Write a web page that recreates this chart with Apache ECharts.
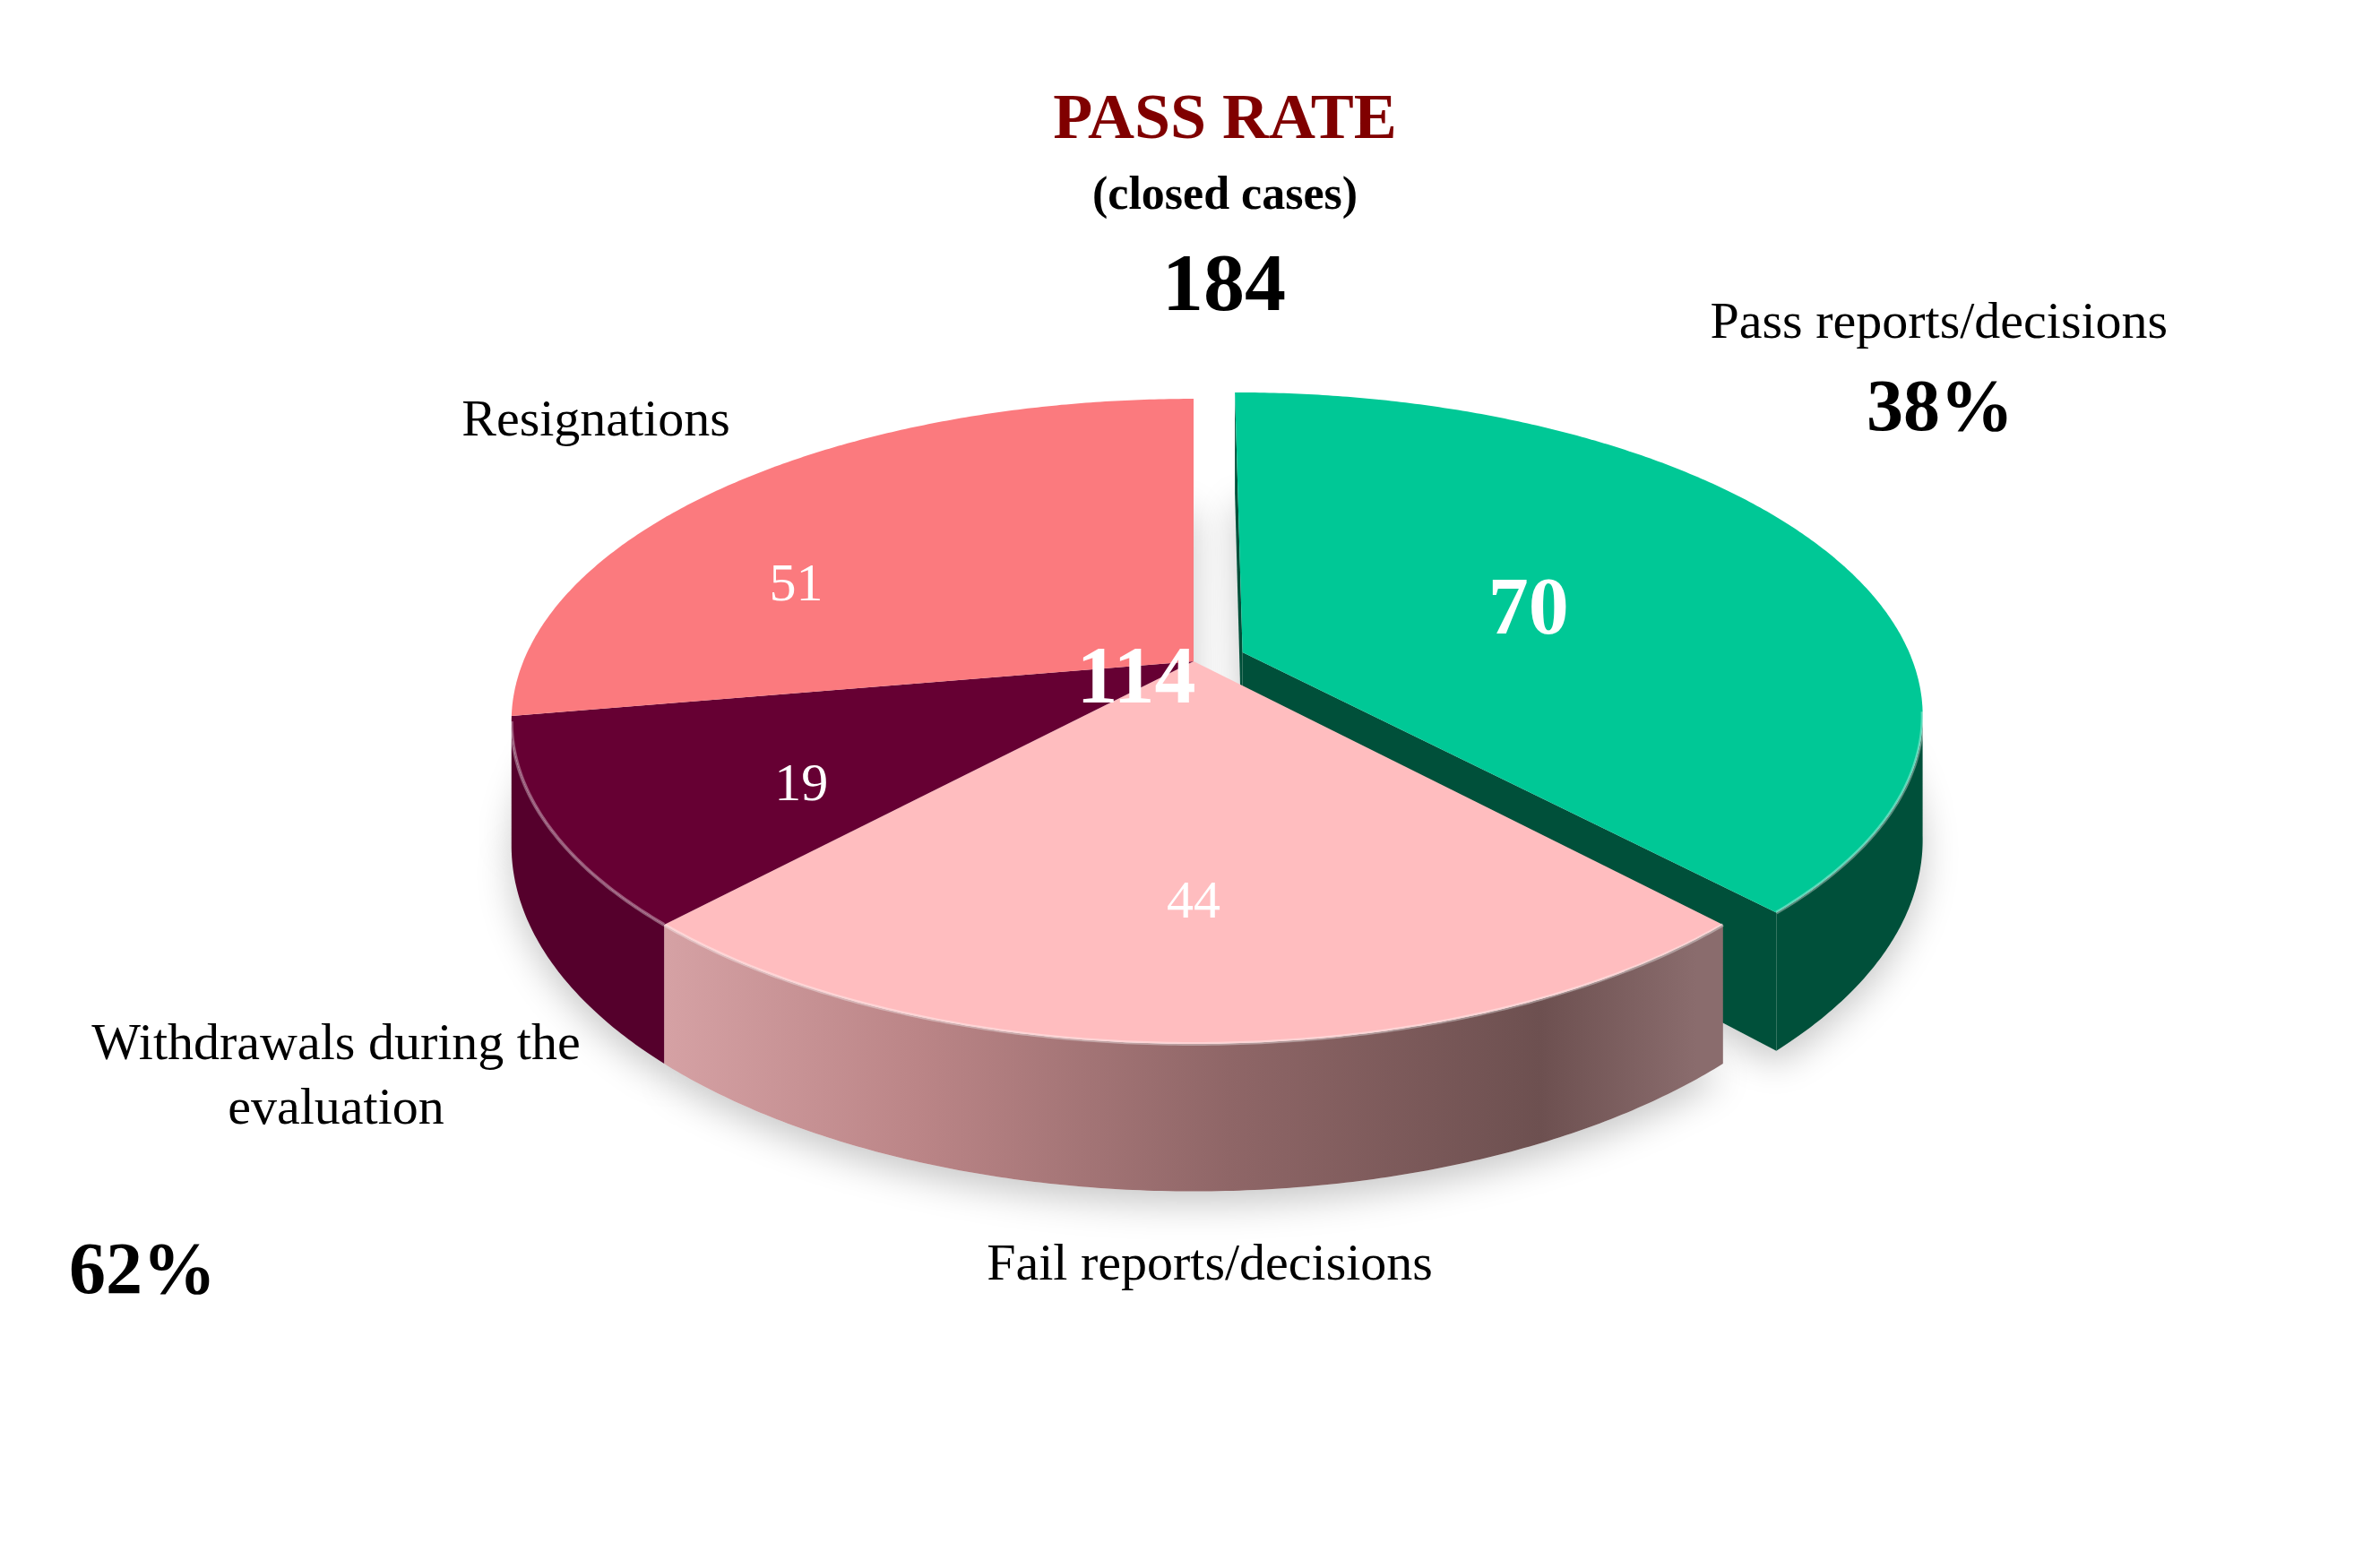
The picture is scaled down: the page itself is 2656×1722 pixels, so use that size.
<!DOCTYPE html>
<html><head><meta charset="utf-8">
<script src="https://cdn.jsdelivr.net/npm/echarts@6/dist/echarts.min.js"></script>
<style>html,body{margin:0;padding:0;background:#fff}#chart{width:2656px;height:1722px}</style>
</head><body><div id="chart"></div>
<script>
// ---- data ----
const categories = ['Pass reports/decisions', 'Fail reports/decisions', 'Withdrawals during the\nevaluation', 'Resignations'];
const values = [70, 44, 19, 51];
const exploded = [1, 0, 0, 0];
const titleText = 'PASS RATE';
const subtitleText = '(closed cases)';

// ---- styles / layout (not data) ----
const FONT = '"Liberation Serif", "DejaVu Serif", serif';
const topColors = ['#00C896', '#FFBDBF', '#660033', '#FB7A7E'];
const wallColors = ['#00503A', null, '#55002C', '#DC6B6D'];
const valueFont = ['bold 90px ' + FONT, '60px ' + FONT, '60px ' + FONT, '60px ' + FONT];
// value label placement: [radius fraction, angular shift in degrees]
const labelPlace = [[0.46, 5], [0.68, 0], [0.66, -6], [0.67, -18]];
const namePos = [[0.8147, 0.2102], [0.5083, 0.8205], [0.1412, 0.6985], [0.2504, 0.2735]];

const total = values.reduce((a, b) => a + b, 0);
const starts = [];
{ let acc = 0; values.forEach(v => { starts.push(acc); acc += v; }); }
const passPct = Math.round(values[0] / total * 100);
const restSum = total - values[0];
const restPct = 100 - passPct;

function geom(api) {
  const W = api.getWidth(), H = api.getHeight();
  return { W, H, cx: W * 0.5015, cy: H * 0.4286, R: W * 0.2816, A: H * 0.2018, B: 0.186, D: H * 0.0778 };
}

function renderItem(params, api) {
  const i = params.dataIndex;
  const g = geom(api);
  const v = api.value(1);
  const TWO = Math.PI * 2;
  const t1 = starts[i] / total * TWO, t2 = (starts[i] + v) / total * TWO;
  const mid = (t1 + t2) / 2;
  const off = exploded[i] ? 0.079 : 0;
  const ox = off * Math.sin(mid), oz = -off * Math.cos(mid);
  function P(t, r, down) {
    const X = r * Math.sin(t) + ox, Z = -r * Math.cos(t) + oz;
    const d = 1 - g.B * Z;
    return [g.cx + g.R * X / d, g.cy + (g.A * Z + (down ? g.D : 0)) / d];
  }
  function arc(a, b, down) {
    const n = Math.max(2, Math.ceil((b - a) / (Math.PI / 360)));
    const pts = [];
    for (let k = 0; k <= n; k++) pts.push(P(a + (b - a) * k / n, 1, down));
    return pts;
  }
  const base = exploded[i] ? 0 : 3;
  const children = [];
  // floor shadow
  children.push({
    type: 'polygon', z2: base,
    shape: { points: [P(0, 0, true)].concat(arc(t1, t2, true)) },
    style: { fill: '#f0f0f0', shadowBlur: 40, shadowColor: 'rgba(0,0,0,0.22)', shadowOffsetY: 14 }
  });
  // outer wall (visible front part)
  const tv1 = Math.acos(-g.B), tv2 = TWO - tv1;
  const w1 = Math.max(t1, tv1), w2 = Math.min(t2, tv2);
  let wallFill = wallColors[i];
  if (!wallFill) {
    wallFill = new echarts.graphic.LinearGradient(g.cx - g.R * 0.8, 0, g.cx + g.R * 0.75, 0, [
      { offset: 0, color: '#d6a2a5' }, { offset: 0.25, color: '#bb8587' },
      { offset: 0.55, color: '#8f6667' }, { offset: 0.85, color: '#6d5050' },
      { offset: 1, color: '#8a6c6d' }], true);
  }
  if (w2 > w1) {
    const top = arc(w1, w2, false), bot = arc(w1, w2, true).reverse();
    children.push({ type: 'polygon', z2: base + 1, shape: { points: top.concat(bot) }, style: { fill: wallFill } });
  }
  // radial faces for the exploded slice
  if (exploded[i]) {
    [t1, t2].forEach(t => {
      children.push({
        type: 'polygon', z2: base + 1,
        shape: { points: [P(t, 0, false), P(t, 1, false), P(t, 1, true), P(t, 0, true)] },
        style: { fill: wallColors[i] }
      });
    });
  }
  // top face
  children.push({
    type: 'polygon', z2: base + 2,
    shape: { points: [P(0, 0, false)].concat(arc(t1, t2, false)) },
    style: { fill: topColors[i] }
  });
  // subtle bevel highlight on front rim
  if (w2 > w1) {
    children.push({
      type: 'polyline', z2: base + 2,
      shape: { points: arc(w1, w2, false) },
      style: { stroke: 'rgba(255,255,255,0.35)', lineWidth: 4, fill: null }
    });
  }
  // value label
  const lp = P(mid + labelPlace[i][1] * Math.PI / 180, labelPlace[i][0], false);
  children.push({
    type: 'text', z2: 20, x: lp[0], y: lp[1],
    style: { text: String(v), fill: '#ffffff', font: valueFont[i], align: 'center', verticalAlign: 'middle', textAlign: 'center', textVerticalAlign: 'middle' }
  });
  // category name
  children.push({
    type: 'text', z2: 20, x: namePos[i][0] * g.W, y: namePos[i][1] * g.H,
    style: { text: categories[i], fill: '#000000', font: '58px ' + FONT, lineHeight: 72, align: 'center', verticalAlign: 'middle', textAlign: 'center', textVerticalAlign: 'middle' }
  });
  return { type: 'group', children };
}

function txt(x, y, text, font, fill, z) {
  return { type: 'text', x, y, z: z || 10, style: { text, font, fill, align: 'center', verticalAlign: 'middle', textAlign: 'center', textVerticalAlign: 'middle' } };
}

const chart = echarts.init(document.getElementById('chart'));
chart.setOption({
  backgroundColor: '#ffffff',
  animation: false,
  graphic: [
    txt(1367, 135, titleText, 'bold 72px ' + FONT, '#800000'),
    txt(1367, 220, subtitleText, 'bold 52px ' + FONT, '#000000'),
    txt(1366, 322, String(total), 'bold 92px ' + FONT, '#000000'),
    txt(2165, 459, passPct + '%', 'bold 82px ' + FONT, '#000000'),
    txt(159, 1422, restPct + '%', 'bold 82px ' + FONT, '#000000'),
    txt(1268, 760, String(restSum), 'bold 92px ' + FONT, '#ffffff', 100)
  ],
  series: [{
    type: 'custom',
    coordinateSystem: 'none',
    renderItem,
    data: values.map((v, i) => [i, v])
  }]
});
</script></body></html>
